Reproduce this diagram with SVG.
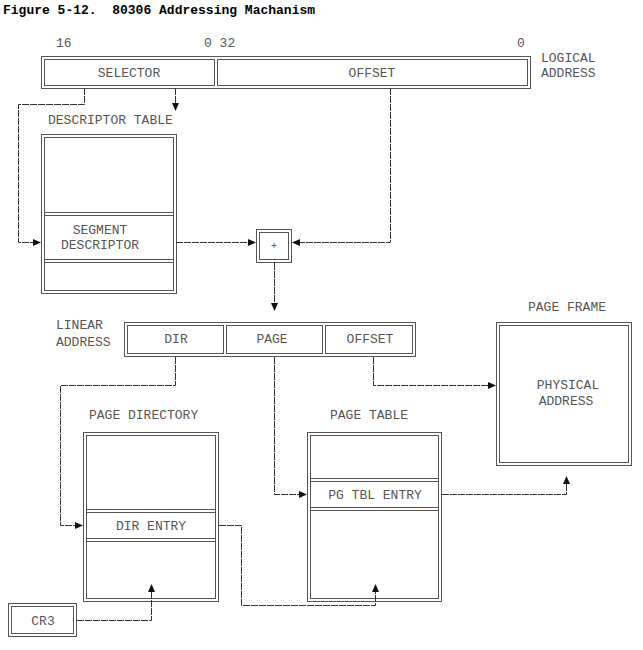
<svg xmlns="http://www.w3.org/2000/svg" width="643" height="650" viewBox="0 0 643 650">
<style>
text{font-family:"Liberation Mono","DejaVu Sans Mono",monospace;font-size:13px;fill:#555;white-space:pre}
.t{font-weight:bold;fill:#000}
.c{text-anchor:middle}
.o{fill:none;stroke:#555;stroke-width:1}
.i{fill:none;stroke:#555;stroke-width:1}
.k{fill:none;stroke:#333;stroke-width:1;stroke-dasharray:7 1}
</style>
<defs><marker id="a" markerWidth="8" markerHeight="8" refX="7" refY="4" orient="auto" markerUnits="userSpaceOnUse"><path d="M0,0.5L8,4L0,7.5Z" fill="#111"/></marker></defs>
<rect width="643" height="650" fill="#fff"/>
<text class="t" x="3" y="14" xml:space="preserve">Figure 5-12.  80306 Addressing Machanism</text>
<g id="logical">
<rect class="o" x="41.5" y="56.5" width="489" height="32"/>
<rect class="i" x="44.5" y="59.5" width="170" height="26"/>
<rect class="i" x="217.5" y="59.5" width="310" height="26"/>
<text x="56" y="47">16</text><text x="204" y="47">0 32</text><text x="517" y="47">0</text>
<text class="c" x="129" y="77">SELECTOR</text><text class="c" x="372" y="77">OFFSET</text>
<text x="541" y="62">LOGICAL</text><text x="541" y="77">ADDRESS</text>
</g>
<g id="descriptor">
<text x="48" y="124">DESCRIPTOR TABLE</text>
<rect class="o" x="41.5" y="134.5" width="135" height="159"/>
<rect class="i" x="44.5" y="137.5" width="129" height="153"/>
<line class="o" x1="44" y1="212.5" x2="174" y2="212.5"/><line class="o" x1="44" y1="215.5" x2="174" y2="215.5"/>
<line class="o" x1="44" y1="259.5" x2="174" y2="259.5"/><line class="o" x1="44" y1="262.5" x2="174" y2="262.5"/>
<text class="c" x="100" y="234">SEGMENT</text><text class="c" x="100" y="249">DESCRIPTOR</text>
</g>
<g id="plus">
<rect class="o" x="256.5" y="229.5" width="35" height="33"/>
<rect class="i" x="259.5" y="232.5" width="29" height="27"/>
<text class="c" x="274" y="249" style="font-size:10px">+</text>
</g>
<g id="linear">
<text x="56" y="329">LINEAR</text><text x="56" y="346">ADDRESS</text>
<rect class="o" x="124.5" y="322.5" width="291" height="34"/>
<rect class="i" x="127.5" y="325.5" width="96" height="28"/>
<rect class="i" x="226.5" y="325.5" width="96" height="28"/>
<rect class="i" x="325.5" y="325.5" width="87" height="28"/>
<text class="c" x="176" y="343">DIR</text><text class="c" x="272" y="343">PAGE</text><text class="c" x="370" y="343">OFFSET</text>
</g>
<g id="pageframe">
<text x="528" y="311">PAGE FRAME</text>
<rect class="o" x="496.5" y="322.5" width="135" height="143"/>
<rect class="i" x="499.5" y="325.5" width="129" height="137"/>
<text class="c" x="568" y="389">PHYSICAL</text><text class="c" x="566" y="405">ADDRESS</text>
</g>
<g id="pagedir">
<text x="89" y="419">PAGE DIRECTORY</text>
<rect class="o" x="83.5" y="432.5" width="135" height="169"/>
<rect class="i" x="86.5" y="435.5" width="129" height="163"/>
<line class="o" x1="86" y1="509.5" x2="216" y2="509.5"/><line class="o" x1="86" y1="512.5" x2="216" y2="512.5"/>
<line class="o" x1="86" y1="538.5" x2="216" y2="538.5"/><line class="o" x1="86" y1="541.5" x2="216" y2="541.5"/>
<text class="c" x="151" y="530">DIR ENTRY</text>
</g>
<g id="pagetable">
<text x="330" y="419">PAGE TABLE</text>
<rect class="o" x="307.5" y="432.5" width="134" height="169"/>
<rect class="i" x="310.5" y="435.5" width="128" height="163"/>
<line class="o" x1="310" y1="478.5" x2="439" y2="478.5"/><line class="o" x1="310" y1="481.5" x2="439" y2="481.5"/>
<line class="o" x1="310" y1="507.5" x2="439" y2="507.5"/><line class="o" x1="310" y1="510.5" x2="439" y2="510.5"/>
<text class="c" x="375" y="499">PG TBL ENTRY</text>
</g>
<g id="cr3">
<rect class="o" x="8.5" y="603.5" width="68" height="33"/>
<rect class="i" x="11.5" y="606.5" width="62" height="27"/>
<text class="c" x="43" y="625">CR3</text>
</g>
<g id="connectors">
<path class="k" d="M84.5,88V104.5H18.5V242.5H40" marker-end="url(#a)"/>
<path class="k" d="M175.5,88V110" marker-end="url(#a)"/>
<path class="k" d="M176,242.5H255" marker-end="url(#a)"/>
<path class="k" d="M390.5,88V242.5H293" marker-end="url(#a)"/>
<path class="k" d="M274.5,263V310" marker-end="url(#a)"/>
<path class="k" d="M175.5,357V385.5H60.5V525.5H82" marker-end="url(#a)"/>
<path class="k" d="M274.5,357V494.5H306" marker-end="url(#a)"/>
<path class="k" d="M373.5,357V385.5H495" marker-end="url(#a)"/>
<path class="k" d="M442,494.5H566.5V477" marker-end="url(#a)"/>
<path class="k" d="M219,525.5H241.5V605.5H375.5V585" marker-end="url(#a)"/>
<path class="k" d="M77,620.5H151.5V585" marker-end="url(#a)"/>
</g>
</svg>
